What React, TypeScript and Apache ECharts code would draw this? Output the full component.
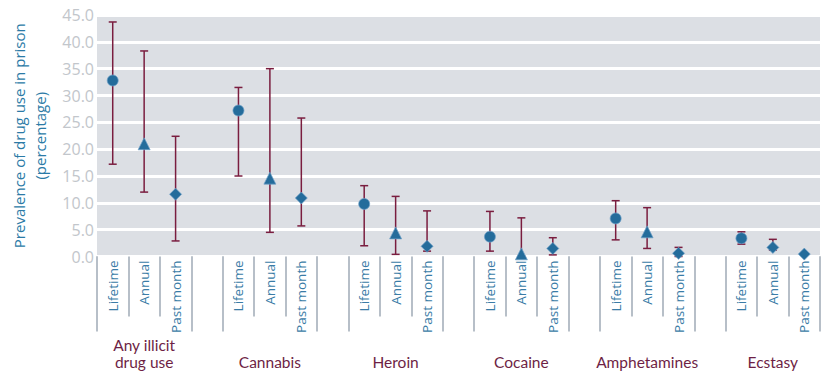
import React, { useEffect, useRef } from "react";
import * as echarts from "echarts";

const groups = ["Any illicit\ndrug use", "Cannabis", "Heroin", "Cocaine", "Amphetamines", "Ecstasy"];
const measures = ["Lifetime", "Annual", "Past month"];
const estimates = [
  [32.8, 21.0, 11.6],
  [27.2, 14.6, 10.9],
  [9.8, 4.4, 1.9],
  [3.7, 0.5, 1.5],
  [7.1, 4.6, 0.6],
  [3.4, 1.7, 0.45],
];
const lowers: (number | null)[][] = [
  [17.2, 12.0, 2.9],
  [15.0, 4.5, 5.7],
  [2.0, 0.4, 1.0],
  [1.0, 0, 0.3],
  [3.1, 1.5, 0],
  [2.3, 1.2, null],
];
const uppers: (number | null)[][] = [
  [43.7, 38.3, 22.4],
  [31.5, 35.0, 25.8],
  [13.2, 11.2, 8.5],
  [8.4, 7.2, 3.5],
  [10.4, 9.1, 1.7],
  [4.6, 3.2, null],
];
const markerShapes = [
  ["circle", "triangle", "diamond"],
  ["circle", "triangle", "diamond"],
  ["circle", "triangle", "diamond"],
  ["circle", "triangle", "diamond"],
  ["circle", "triangle", "diamond"],
  ["circle", "diamond", "diamond"],
];
const yTicks = [0, 5, 10, 15, 20, 25, 30, 35, 40, 45];

const sizeOf: Record<string, number> = { circle: 11, triangle: 12, diamond: 12 };

export default function App() {
  const ref = useRef<HTMLDivElement>(null);
  useEffect(() => {
    document.body.style.margin = "0";
    if (!ref.current) return;
    const chart = echarts.init(ref.current, null, { renderer: "svg" });

    const cats: string[] = [];
    const catLabels: string[] = [];
    const groupLabels: string[] = [];
    const points: any[] = [];
    const bars: any[] = [];
    groups.forEach((g, gi) => {
      measures.forEach((m, mi) => {
        const idx = cats.length;
        cats.push(g + "|" + m);
        catLabels.push(m);
        groupLabels.push(mi === 1 ? g : "");
        const shape = markerShapes[gi][mi];
        points.push({ value: [idx, estimates[gi][mi]], symbol: shape, symbolSize: sizeOf[shape] });
        const lo = lowers[gi][mi];
        const hi = uppers[gi][mi];
        if (lo !== null && hi !== null) bars.push([idx, lo, hi]);
      });
      if (gi < groups.length - 1) {
        cats.push("gap" + gi);
        catLabels.push("");
        groupLabels.push("");
      }
    });

    const font = "'Open Sans', 'Noto Sans', sans-serif";

    chart.setOption({
      animation: false,
      grid: {
        left: 95,
        right: 10,
        top: 15,
        bottom: 122.5,
        show: true,
        backgroundColor: "#dcdfe4",
        borderWidth: 0,
      },
      xAxis: [
        {
          type: "category",
          data: cats,
          position: "bottom",
          axisLine: { show: false },
          axisTick: { show: true, length: 60, interval: 0, lineStyle: { color: "#b7bfc8", width: 2 } },
          axisLabel: {
            interval: 0,
            rotate: 90,
            margin: 4,
            color: "#3a7ca6",
            fontSize: 13.5,
            fontFamily: font,
            formatter: (_v: string, i: number) => catLabels[i],
          },
          splitLine: { show: false },
        },
        {
          type: "category",
          data: cats,
          position: "bottom",
          axisLine: { show: false },
          axisTick: {
            show: true,
            length: 75,
            interval: (i: number) => i % 4 === 0 || i % 4 === 3,
            lineStyle: { color: "#b7bfc8", width: 2 },
          },
          axisLabel: {
            interval: 0,
            margin: 114,
            verticalAlign: "bottom",
            lineHeight: 17,
            color: "#6e1f45",
            fontSize: 15.5,
            fontFamily: "Lato, 'Open Sans', sans-serif",
            formatter: (_v: string, i: number) => groupLabels[i],
          },
          splitLine: { show: false },
        },
      ],
      yAxis: {
        type: "value",
        min: yTicks[0],
        max: yTicks[yTicks.length - 1],
        interval: 5,
        name: "Prevalence of drug use in prison\n(percentage)",
        nameLocation: "middle",
        nameGap: 47,
        nameTextStyle: { color: "#2b7aa6", fontSize: 15, lineHeight: 21, fontFamily: font },
        axisLine: { show: false },
        axisTick: { show: false },
        axisLabel: {
          margin: 3,
          color: "#c2c6cb",
          fontSize: 16,
          fontFamily: font,
          formatter: (v: number) => v.toFixed(1),
        },
        splitLine: { show: true, lineStyle: { color: "#ffffff", width: 3 } },
      },
      series: [
        {
          type: "custom",
          xAxisIndex: 0,
          data: bars,
          z: 2,
          renderItem: (_params: any, api: any) => {
            const x = api.value(0);
            const pLo = api.coord([x, api.value(1)]);
            const pHi = api.coord([x, api.value(2)]);
            const hw = 4;
            const style = { stroke: "#7a1d3f", lineWidth: 1.5, fill: "none" };
            return {
              type: "group",
              children: [
                { type: "line", shape: { x1: pLo[0], y1: pLo[1], x2: pHi[0], y2: pHi[1] }, style },
                { type: "line", shape: { x1: pLo[0] - hw, y1: pLo[1], x2: pLo[0] + hw, y2: pLo[1] }, style },
                { type: "line", shape: { x1: pHi[0] - hw, y1: pHi[1], x2: pHi[0] + hw, y2: pHi[1] }, style },
              ],
            };
          },
        },
        {
          type: "scatter",
          xAxisIndex: 0,
          data: points,
          z: 3,
          itemStyle: { color: "#246c9b", borderColor: "rgba(110,160,200,0.7)", borderWidth: 1, opacity: 1 },
        },
      ],
    });
    return () => chart.dispose();
  }, []);
  return <div ref={ref} style={{ width: 830, height: 379 }} />;
}
